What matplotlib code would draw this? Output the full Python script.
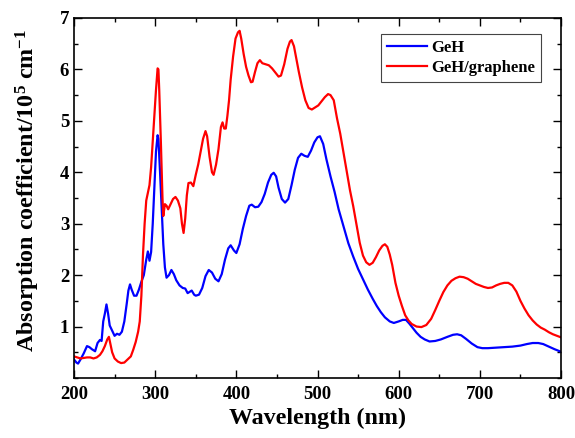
import matplotlib.pyplot as plt
from matplotlib.ticker import MultipleLocator

# values
geh_nm = [200, 203, 205, 208, 212, 216, 219, 222, 226, 229, 232, 234, 236, 238,
          240, 242, 244, 247, 250, 253, 256, 259, 262, 265, 267, 269, 271, 274,
          277, 280, 283, 286, 289, 291, 293, 295, 297, 299, 301, 303, 304, 306,
          308, 310, 312, 314, 317, 320, 323, 326, 330, 334, 337, 340, 343, 345,
          348, 350, 354, 358, 362, 366, 370, 374, 378, 382, 386, 390, 393, 397,
          400, 404, 408, 412, 416, 419, 423, 427, 431, 435, 439, 443, 446, 449,
          452, 456, 460, 464, 468, 472, 476, 480, 484, 488, 492, 496, 500, 503,
          507, 511, 516, 521, 526, 532, 538, 544, 550, 556, 562, 568, 573, 578,
          583, 589, 594, 600, 605, 609, 613, 618, 622, 627, 632, 638, 645, 652,
          660, 667, 672, 677, 683, 690, 697, 703, 710, 720, 730, 740, 750, 758,
          765, 772, 778, 785, 792, 800]
geh_abs = [0.36, 0.30, 0.28, 0.36, 0.48, 0.62, 0.60, 0.56, 0.52, 0.68, 0.74, 0.72, 1.10, 1.25,
           1.43, 1.25, 1.02, 0.92, 0.82, 0.86, 0.84, 0.90, 1.10, 1.45, 1.70, 1.82, 1.72, 1.60,
           1.60, 1.72, 1.87, 2.00, 2.30, 2.46, 2.28, 2.45, 3.00, 3.70, 4.40, 4.72, 4.65, 4.00,
           3.30, 2.60, 2.15, 1.95, 2.00, 2.10, 2.02, 1.90, 1.80, 1.75, 1.74, 1.65, 1.68, 1.70,
           1.62, 1.60, 1.62, 1.75, 1.98, 2.10, 2.05, 1.93, 1.88, 2.02, 2.30, 2.52, 2.58, 2.48,
           2.43, 2.60, 2.90, 3.15, 3.35, 3.37, 3.32, 3.33, 3.42, 3.58, 3.80, 3.95, 3.99, 3.92,
           3.70, 3.48, 3.41, 3.48, 3.75, 4.05, 4.28, 4.36, 4.32, 4.30, 4.42, 4.58, 4.68, 4.70,
           4.55, 4.25, 3.92, 3.62, 3.28, 2.95, 2.62, 2.36, 2.12, 1.92, 1.72, 1.54, 1.40, 1.28,
           1.18, 1.10, 1.07, 1.10, 1.13, 1.13, 1.06, 0.96, 0.88, 0.80, 0.75, 0.71, 0.72, 0.75,
           0.80, 0.84, 0.85, 0.83, 0.76, 0.67, 0.60, 0.58, 0.58, 0.59, 0.60, 0.61, 0.63, 0.66,
           0.68, 0.68, 0.66, 0.61, 0.56, 0.51]

gr_nm = [200, 204, 208, 212, 216, 220, 224, 228, 232, 235, 238, 241, 243, 245,
         247, 250, 254, 258, 262, 266, 270, 273, 276, 279, 281, 283, 285, 287,
         289, 291, 293, 295, 297, 299, 301, 303, 304, 305, 307, 309, 310, 312,
         314, 316, 319, 322, 325, 328, 331, 333, 335, 337, 339, 341, 344, 347,
         350, 353, 356, 359, 362, 364, 367, 370, 372, 375, 378, 381, 383, 385,
         387, 389, 391, 393, 396, 399, 402, 404, 406, 409, 412, 415, 418, 420,
         423, 426, 429, 432, 436, 440, 444, 448, 452, 455, 459, 463, 466, 468,
         471, 474, 477, 481, 485, 489, 493, 497, 501, 505, 509, 513, 516, 520,
         524, 528, 532, 536, 540, 544, 548, 552, 556, 560, 564, 568, 572, 576,
         580, 583, 586, 589, 592, 596, 600, 604, 608, 612, 616, 622, 628, 634,
         640, 645, 650, 655, 660, 665, 670, 675, 680, 685, 690, 695, 700, 705,
         710, 715, 720, 725, 730, 735, 740, 745, 750, 755, 760, 765, 770, 775,
         780, 785, 790, 795, 800]
gr_abs = [0.42, 0.40, 0.38, 0.39, 0.40, 0.40, 0.38, 0.40, 0.45, 0.52, 0.62, 0.75, 0.80, 0.65,
          0.50, 0.38, 0.32, 0.29, 0.30, 0.36, 0.42, 0.55, 0.70, 0.90, 1.10, 1.60, 2.40, 3.00,
          3.45, 3.60, 3.75, 4.10, 4.60, 5.10, 5.60, 6.02, 6.00, 5.60, 4.60, 3.50, 3.15, 3.38,
          3.35, 3.28, 3.38, 3.48, 3.52, 3.45, 3.30, 3.00, 2.82, 3.10, 3.55, 3.79, 3.80, 3.73,
          3.95, 4.15, 4.40, 4.65, 4.80, 4.70, 4.30, 4.00, 3.95, 4.15, 4.45, 4.88, 4.97, 4.85,
          4.85, 5.10, 5.40, 5.80, 6.25, 6.60, 6.72, 6.75, 6.60, 6.30, 6.05, 5.88, 5.75, 5.76,
          5.95, 6.12, 6.18, 6.12, 6.10, 6.08, 6.02, 5.94, 5.86, 5.88, 6.10, 6.40, 6.54, 6.57,
          6.45, 6.20, 5.95, 5.65, 5.40, 5.25, 5.22, 5.26, 5.30, 5.38, 5.46, 5.52, 5.50, 5.40,
          5.05, 4.75, 4.38, 4.00, 3.65, 3.34, 2.98, 2.63, 2.38, 2.25, 2.20, 2.24, 2.35, 2.48,
          2.57, 2.60, 2.55, 2.40, 2.20, 1.85, 1.60, 1.40, 1.22, 1.12, 1.05, 1.00, 0.99, 1.03,
          1.15, 1.32, 1.50, 1.67, 1.80, 1.89, 1.94, 1.97, 1.96, 1.93, 1.88, 1.83, 1.80, 1.77,
          1.75, 1.76, 1.80, 1.83, 1.85, 1.85, 1.80, 1.68, 1.50, 1.35, 1.22, 1.12, 1.04, 0.98,
          0.94, 0.89, 0.85, 0.82, 0.79]

x_ticks = [200, 300, 400, 500, 600, 700, 800]
y_ticks = [1, 2, 3, 4, 5, 6, 7]

plt.rcParams['font.family'] = ['Liberation Serif', 'DejaVu Serif']
plt.rcParams['mathtext.fontset'] = 'custom'
plt.rcParams['mathtext.rm'] = 'Liberation Serif:bold'
plt.rcParams['mathtext.it'] = 'Liberation Serif:bold'
plt.rcParams['mathtext.bf'] = 'Liberation Serif:bold'

fig = plt.figure(figsize=(5.75, 4.38), dpi=100)
ax = fig.add_axes([0.1287, 0.137, 0.847, 0.822])

ax.plot(geh_nm, geh_abs, color='#0000ff', lw=1.6, label='GeH')
ax.plot(gr_nm, gr_abs, color='#ff0000', lw=1.6, label='GeH/graphene')

ax.set_xlim(200, 800)
ax.set_ylim(0, 7)
ax.set_xticks(x_ticks)
ax.set_yticks(y_ticks)
ax.xaxis.set_minor_locator(MultipleLocator(50))
ax.yaxis.set_minor_locator(MultipleLocator(0.5))
ax.tick_params(which='both', direction='in', top=True, right=True, width=1)
ax.tick_params(which='major', length=6, labelsize=13.5)
ax.tick_params(axis='x', which='major', pad=6)
ax.tick_params(which='minor', length=3)
for lab in ax.get_xticklabels() + ax.get_yticklabels():
    lab.set_fontweight('bold')
for s in ax.spines.values():
    s.set_linewidth(1.2)

ax.set_xlabel('Wavelength (nm)', fontsize=17.3, fontweight='bold', labelpad=3)
ax.set_ylabel(r'Absorption coefficient/10$^5$ cm$^{-1}$', fontsize=17.3,
              fontweight='bold')
ax.yaxis.set_label_coords(-0.066, 0.522)

leg = ax.legend(loc='upper right', bbox_to_anchor=(0.959, 0.956), fancybox=False,
                framealpha=1, edgecolor='#444444', prop={'size': 12, 'weight': 'bold'},
                handlelength=2.4, borderaxespad=0, labelspacing=0.25, handletextpad=0.25,
                borderpad=0.35)
leg.get_frame().set_linewidth(0.8)

fig.savefig('out.png', dpi=100)
